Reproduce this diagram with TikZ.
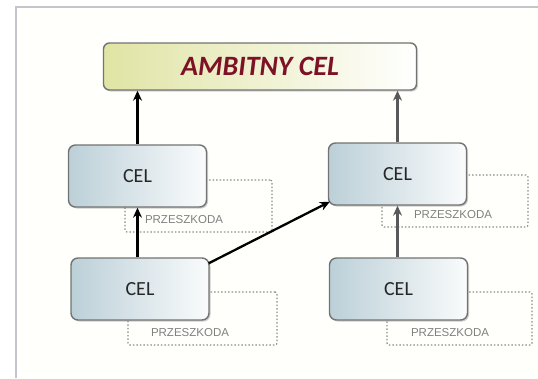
\documentclass[tikz,border=0pt]{standalone}
\usepackage{fontspec}
\newfontfamily\calfont{Carlito}
\newfontfamily\arialfont{Liberation Sans}
\usepackage{tikz}
\usetikzlibrary{arrows.meta, positioning, calc, shadows}
\usepackage{xcolor}

\definecolor{celblue}{RGB}{188,208,216}
\definecolor{ambgreen}{RGB}{224,228,164}
\definecolor{ambred}{RGB}{125,18,38}
\definecolor{framegray}{RGB}{196,196,204}

\begin{document}
\begin{tikzpicture}[
        x=1pt, y=-1pt,
        >=Stealth,
        goal/.style={rectangle, draw=black!55, line width=1.4pt, rounded corners=6pt, left color=ambgreen, right color=white, minimum width=313pt, minimum height=47pt, font=\calfont\bfseries\itshape\fontsize{28}{30}\selectfont, text=ambred, drop shadow={shadow xshift=1.5pt, shadow yshift=-1.5pt, opacity=0.35}},
        cel/.style={rectangle, draw=black!55, line width=1.4pt, rounded corners=7pt, left color=celblue, right color=white!92!celblue, minimum width=138pt, minimum height=62pt, font=\calfont\fontsize{20}{22}\selectfont, text=black!85, drop shadow={shadow xshift=1.5pt, shadow yshift=-1.5pt, opacity=0.4}},
        hinder/.style={rectangle, draw=black!45, line width=1.2pt, dash pattern=on 1.5pt off 2pt, rounded corners=2pt},
        hintext/.style={font=\arialfont\fontsize{11.5}{12}\selectfont, text=black!50, inner sep=1pt},
        line/.style={draw, line width=2.3pt, black, -{Stealth[length=10pt, width=9pt]}},
        gline/.style={line, black!65}
    ]

        % ramka tla
        \useasboundingbox (0,0) rectangle (538,378);
        \fill[white!99!yellow] (16,7) rectangle (538,378);
        \draw[framegray, line width=1.3pt] (16,378) -- (16,7) -- (538,7);

        % ================= PRZESZKODY =================
        \node[hinder, minimum width=147pt, minimum height=52pt] (hindA) at (198.5,206) {};
        \node[hinder, minimum width=146pt, minimum height=52pt] (hindB) at (455,201) {};
        \node[hinder, minimum width=149pt, minimum height=53pt] (hindC) at (202.5,318.5) {};
        \node[hinder, minimum width=145pt, minimum height=53pt] (hindD) at (459.5,318.5) {};

        \node[hintext] (txtA) at (184,220) {PRZESZKODA};
        \node[hintext] (txtB) at (453,215) {PRZESZKODA};
        \node[hintext] (txtC) at (190,333) {PRZESZKODA};
        \node[hintext] (txtD) at (450,333) {PRZESZKODA};

        % ================= CELE =================
        \node[goal] (amb) at (260,66.5) {AMBITNY CEL};

        \node[cel] (celA) at (137.5,176) {CEL};
        \node[cel] (celB) at (397.5,174) {CEL};
        \node[cel] (celC) at (140,289) {CEL};
        \node[cel] (celD) at (398.5,289) {CEL};

        % ================= STRZALKI =================
        \path[line] (celA.north) -- (celA.north |- amb.south);
        \path[gline] (celB.north) -- (celB.north |- amb.south);
        \path[line] (celC.north -| celA.south) -- (celA.south);
        \path[gline] (celD.north -| celB.south) -- (celB.south);
        \path[line] ([xshift=-1pt, yshift=-6pt]celC.north east) -- ([xshift=2pt, yshift=4pt]celB.south west);

    \end{tikzpicture}
\end{document}
